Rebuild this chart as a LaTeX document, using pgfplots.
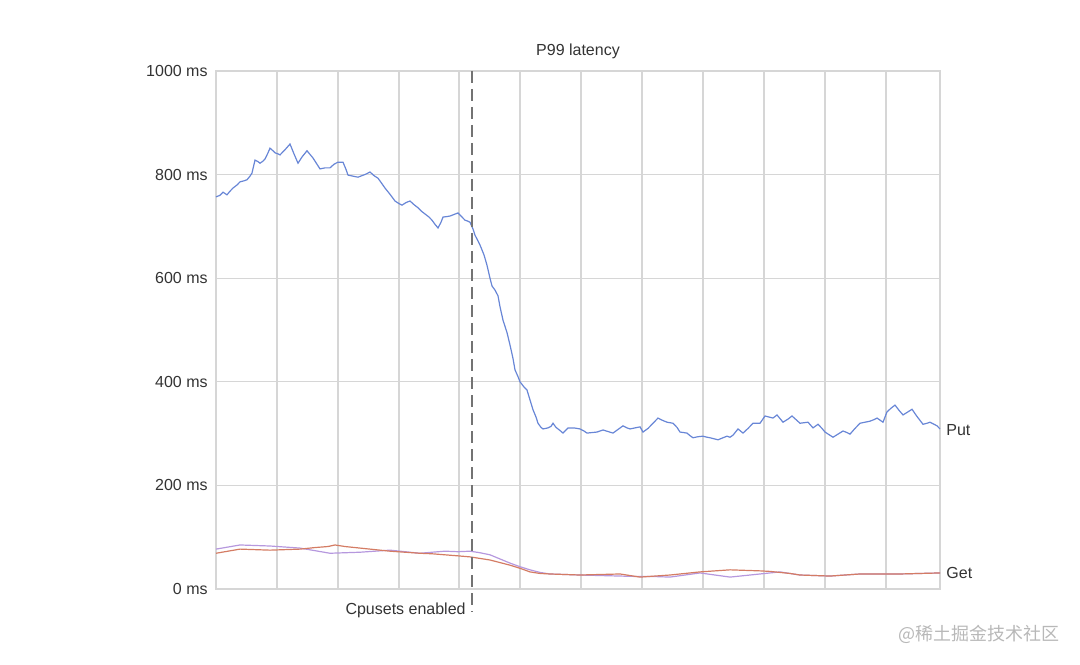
\documentclass[border=0pt]{standalone}
\usepackage{pgfplots}
\pgfplotsset{compat=1.18}
\usepackage{fontspec}
\setmainfont{Liberation Sans}
\newfontfamily\cjk{Noto Sans CJK SC}
\definecolor{putblue}{RGB}{104,134,214}
\definecolor{getred}{RGB}{212,124,100}
\definecolor{getviolet}{RGB}{182,152,222}
\definecolor{gridgray}{RGB}{214,214,214}
\definecolor{txt}{RGB}{51,51,51}
\begin{document}
\begin{tikzpicture}
\path (0,0) rectangle (540pt,332pt);
\begin{axis}[
  at={(108pt,37.5pt)}, anchor=south west,
  scale only axis, width=362pt, height=259pt,
  xmin=216, xmax=940, ymin=0, ymax=1000,
  xtick={277,338,399,459,520,581,642,703,764,825,886},
  xticklabels={},
  ytick={0,200,400,600,800,1000},
  yticklabel={\pgfmathprintnumber{\tick} ms},
  /pgf/number format/assume math mode=true,
  /pgf/number format/1000 sep={},
  yticklabel style={font=\fontsize{8}{9}\selectfont, text=txt, inner sep=0pt, xshift=-4pt},
  major tick length=0pt,
  grid=major,
  grid style={gridgray, line width=0.6pt},
  axis line style={gridgray, line width=0.6pt},
  clip=false,
]
\addplot[putblue, line width=0.6pt] coordinates {
(216,757) (220,760) (223,766) (227,761) (230,768) (233,774) (237,780) (240,786) (244,788) (247,790)
(250,797) (252,803) (255,828) (258,825) (260,822) (263,826) (265,830) (268,842) (270,851) (273,846)
(275,842) (278,840) (280,838) (285,848) (290,859) (294,840) (298,822) (302,834) (307,846) (310,839)
(313,832) (317,820) (320,811) (325,813) (330,813) (334,820) (338,824) (343,824) (346,810) (348,799)
(353,797) (358,795) (362,798) (366,801) (370,805) (374,798) (378,793) (381,785) (385,774) (390,762)
(395,749) (399,744) (402,741) (406,746) (410,749) (414,742) (418,736) (421,730) (425,724) (429,718)
(432,712) (435,704) (438,697) (441,708) (443,718) (447,719) (450,720) (454,723) (458,726) (462,718)
(465,712) (468,710) (470,708) (473,695) (475,683) (478,672) (480,664) (484,645) (487,625) (490,600)
(492,585) (495,577) (498,566) (500,545) (503,519) (507,495) (510,471) (513,445) (515,423) (518,410)
(520,400) (524,390) (527,384) (530,365) (533,346) (536,332) (538,320) (541,312) (543,309) (548,311)
(551,314) (553,320) (556,312) (560,306) (563,301) (568,311) (574,311) (580,309) (584,305) (587,301)
(592,302) (597,303) (603,307) (608,304) (613,301) (618,308) (623,315) (627,311) (630,309) (635,311)
(640,313) (643,303) (648,310) (653,320) (658,330) (662,326) (667,322) (673,320) (677,312) (680,303)
(687,301) (690,296) (693,292) (698,294) (703,295) (707,293) (710,292) (714,290) (718,288) (723,292)
(727,295) (730,293) (733,297) (738,309) (743,301) (748,310) (753,320) (757,320) (760,320) (765,334)
(769,332) (773,330) (777,336) (780,329) (783,322) (788,328) (792,334) (796,327) (800,320) (804,321)
(808,322) (813,311) (818,318) (822,310) (825,303) (829,298) (833,293) (838,299) (843,305) (847,302)
(850,299) (855,310) (860,320) (865,322) (870,324) (874,327) (877,330) (880,326) (883,322) (887,342)
(891,349) (895,355) (899,345) (903,336) (908,342) (912,347) (917,333) (923,318) (927,320) (930,322)
(934,318) (937,315) (940,309)
};
\addplot[getviolet, line width=0.6pt] coordinates {
(216,77) (228,81) (240,85) (255,84) (270,83) (285,81) (300,79) (315,74) (330,69) (345,70) (360,71)
(375,73) (390,75) (405,72) (420,69) (432,71) (445,73) (458,72) (470,73) (480,70) (490,66) (500,58)
(510,50) (520,43) (530,37) (540,32) (550,29) (565,28) (580,27) (600,26) (620,25) (640,24) (655,24)
(670,23) (685,27) (700,31) (715,27) (730,23) (745,26) (760,29) (770,31) (780,33) (790,30) (800,27)
(815,26) (830,25) (845,27) (860,29) (880,29) (900,29) (920,30) (940,31)
};
\addplot[getred, line width=0.6pt] coordinates {
(216,69) (228,73) (240,77) (255,76) (270,75) (285,76) (300,77) (315,80) (328,82) (335,85) (345,82)
(360,79) (375,76) (390,73) (405,71) (420,69) (432,68) (445,66) (458,64) (470,62) (480,59) (490,56)
(500,51) (510,46) (520,40) (530,33) (540,30) (550,29) (565,28) (580,27) (600,28) (620,29) (640,23)
(655,25) (670,27) (685,30) (700,33) (715,35) (730,37) (745,36) (760,35) (770,34) (780,32) (790,30)
(800,27) (815,26) (830,25) (845,27) (860,29) (880,29) (900,29) (920,30) (940,31)
};
\draw[black!55, line width=0.7pt, dash pattern=on 6pt off 3pt] (axis cs:472,1000) -- (axis cs:472,-45);
\end{axis}
\node[font=\fontsize{8}{9}\selectfont, text=txt] at (289pt,306.5pt) {P99 latency};
\node[font=\fontsize{8}{9}\selectfont, text=txt, anchor=east, inner sep=0pt] at (233pt,27pt) {Cpusets enabled};
\node[font=\fontsize{8}{9}\selectfont, text=txt, anchor=west, inner sep=0pt] at (473pt,117pt) {Put};
\node[font=\fontsize{8}{9}\selectfont, text=txt, anchor=west, inner sep=0pt] at (473pt,45.5pt) {Get};
\node[font=\cjk\fontsize{9}{10}\selectfont, text=black!28] at (489.5pt,15pt) {@稀土掘金技术社区};
\end{tikzpicture}
\end{document}
